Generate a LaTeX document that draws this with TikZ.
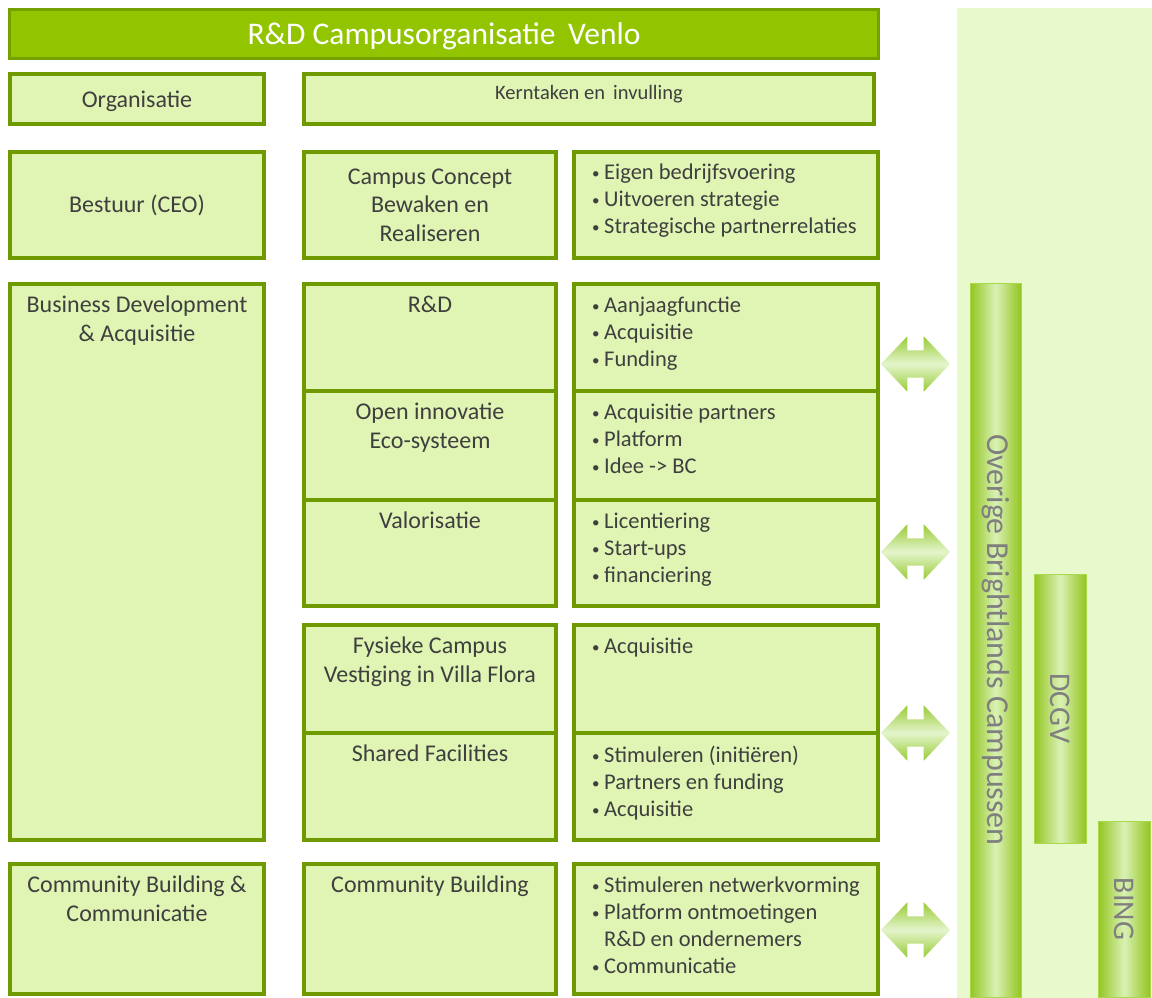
\documentclass[tikz,border=0pt]{standalone}
\usepackage{fontspec}
\setmainfont{Carlito}
\usetikzlibrary{positioning,shapes.arrows}

\definecolor{titlegreen}{HTML}{92C500}
\definecolor{titleline}{HTML}{74A000}
\definecolor{boxfill}{HTML}{E0F5B3}
\definecolor{boxline}{HTML}{6E9A00}
\definecolor{txtgray}{HTML}{3F3F3F}
\definecolor{panelfill}{HTML}{E8F9CB}
\definecolor{bardark}{HTML}{93C520}
\definecolor{barlight}{HTML}{D9F1B4}
\definecolor{barline}{HTML}{A9D84A}
\definecolor{arrdark}{HTML}{98CB36}
\definecolor{arrlight}{HTML}{E4F5CC}
\definecolor{sidegray}{HTML}{7F7F7F}

\newcommand{\bul}[1]{\makebox[12pt][l]{\raisebox{1.5pt}{\fontsize{15}{15}\selectfont\textbullet}}#1}

\begin{document}
\begin{tikzpicture}[x=1pt,y=-1pt]
\tikzstyle{box} = [rectangle, draw=boxline, fill=boxfill, line width=4pt, inner sep=0pt]
\tikzstyle{txt} = [text=txtgray, inner sep=0pt, align=center, font=\fontsize{24}{28.5}\selectfont]
\tikzstyle{bullets} = [text=txtgray, inner sep=0pt, align=left, font=\fontsize{22.5}{27}\selectfont]
\tikzstyle{bar} = [rectangle, draw=barline, line width=1pt, left color=bardark, right color=bardark, middle color=barlight, inner sep=0pt]
\tikzstyle{sidetext} = [text=sidegray, rotate=-90, inner sep=0pt, font=\fontsize{30}{36}\selectfont]
\tikzstyle{dblarrow} = [double arrow, draw=none, top color=arrdark, bottom color=arrdark, middle color=arrlight, inner xsep=0pt, inner ysep=13.5pt, double arrow head extend=14pt, double arrow tip angle=93, minimum height=69pt]

\useasboundingbox (0,0) rectangle (1152,998);

% right panel with the other campuses
\node[rectangle, fill=panelfill, minimum width=195pt, minimum height=990pt, inner sep=0pt] (panel) at (1054.5,503) {};
\node[bar, minimum width=51pt, minimum height=714pt] (ovr) at (995.5,640) {};
\node[sidetext, font=\fontsize{32}{36}\selectfont] at (ovr.center) {Overige Brightlands Campussen};
\node[bar, minimum width=52pt, minimum height=269pt] (dcgv) at (1060,708.5) {};
\node[sidetext] at (dcgv.center) {DCGV};
\node[bar, minimum width=52pt, minimum height=176pt] (bing) at (1124,909) {};
\node[sidetext] at (bing.center) {BING};

% header
\node[rectangle, draw=titleline, fill=titlegreen, line width=3pt, minimum width=869pt, minimum height=49pt, text depth=0pt, text=white, font=\fontsize{31.5}{36}\selectfont] (title) at (444,34) {R\&D Campusorganisatie\, Venlo};

\node[box, minimum width=254pt, minimum height=50pt] (org) at (137,99) {};
\node[txt, text depth=0pt] at (org.center) {Organisatie};
\node[box, minimum width=570pt, minimum height=50pt] (kern) at (589,99) {};
\node[txt, font=\fontsize{20.5}{24}\selectfont, below=13pt of kern.north] {Kerntaken en\, invulling};

% bestuur
\node[box, minimum width=254pt, minimum height=106pt] (bestuur) at (137,205) {};
\node[txt] at (bestuur.center) {Bestuur (CEO)};
\node[box, minimum width=252pt, minimum height=106pt] (concept) at (430,205) {};
\node[txt] at (concept.center) {Campus Concept\\Bewaken en\\Realiseren};
\node[box, minimum width=304pt, minimum height=106pt] (bconcept) at (726,205) {};
\node[bullets, below right=14pt and 20pt of bconcept.north west] {\bul{Eigen bedrijfsvoering}\\\bul{Uitvoeren strategie}\\\bul{Strategische partnerrelaties}};

% business development
\node[box, minimum width=254pt, minimum height=556pt] (busdev) at (137,562) {};
\node[txt, below=14pt of busdev.north] {Business Development\\\& Acquisitie};

\node[box, minimum width=252pt, minimum height=107pt] (rd) at (430,337.5) {};
\node[txt, below=14pt of rd.north] {R\&D};
\node[box, minimum width=252pt, minimum height=109pt] (oi) at (430,445.5) {};
\node[txt, below=14pt of oi.north] {Open innovatie\\Eco-systeem};
\node[box, minimum width=252pt, minimum height=106pt] (val) at (430,553) {};
\node[txt, below=14pt of val.north] {Valorisatie};

\node[box, minimum width=304pt, minimum height=107pt] (brd) at (726,337.5) {};
\node[bullets, below right=15pt and 20pt of brd.north west] {\bul{Aanjaagfunctie}\\\bul{Acquisitie}\\\bul{Funding}};
\node[box, minimum width=304pt, minimum height=109pt] (boi) at (726,445.5) {};
\node[bullets, below right=15pt and 20pt of boi.north west] {\bul{Acquisitie partners}\\\bul{Platform}\\\bul{Idee -> BC}};
\node[box, minimum width=304pt, minimum height=106pt] (bval) at (726,553) {};
\node[bullets, below right=15pt and 20pt of bval.north west] {\bul{Licentiering}\\\bul{Start-ups}\\\bul{financiering}};

\node[box, minimum width=252pt, minimum height=108pt] (fys) at (430,679) {};
\node[txt, below=14pt of fys.north] {Fysieke Campus\\Vestiging in Villa Flora};
\node[box, minimum width=252pt, minimum height=107pt] (shared) at (430,786.5) {};
\node[txt, below=14pt of shared.north] {Shared Facilities};

\node[box, minimum width=304pt, minimum height=108pt] (bfys) at (726,679) {};
\node[bullets, below right=15pt and 20pt of bfys.north west] {\bul{Acquisitie}};
\node[box, minimum width=304pt, minimum height=107pt] (bshared) at (726,786.5) {};
\node[bullets, below right=15pt and 20pt of bshared.north west] {\bul{Stimuleren (initiëren)}\\\bul{Partners en funding}\\\bul{Acquisitie}};

% community building
\node[box, minimum width=254pt, minimum height=130pt] (comm) at (137,929) {};
\node[txt, below=14pt of comm.north] {Community Building \&\\Communicatie};
\node[box, minimum width=252pt, minimum height=130pt] (cb) at (430,929) {};
\node[txt, below=14pt of cb.north] {Community Building};
\node[box, minimum width=304pt, minimum height=130pt] (bcb) at (726,929) {};
\node[bullets, below right=15pt and 20pt of bcb.north west] {\bul{Stimuleren netwerkvorming}\\\bul{Platform ontmoetingen}\\\hspace*{12pt}R\&D en ondernemers\\\bul{Communicatie}};

% links to the other campuses
\node[dblarrow] (lrd) at (915.5,364) {};
\node[dblarrow] (lval) at (915.5,552) {};
\node[dblarrow] (lfys) at (915.5,733) {};
\node[dblarrow] (lcb) at (915.5,930) {};

\end{tikzpicture}
\end{document}
